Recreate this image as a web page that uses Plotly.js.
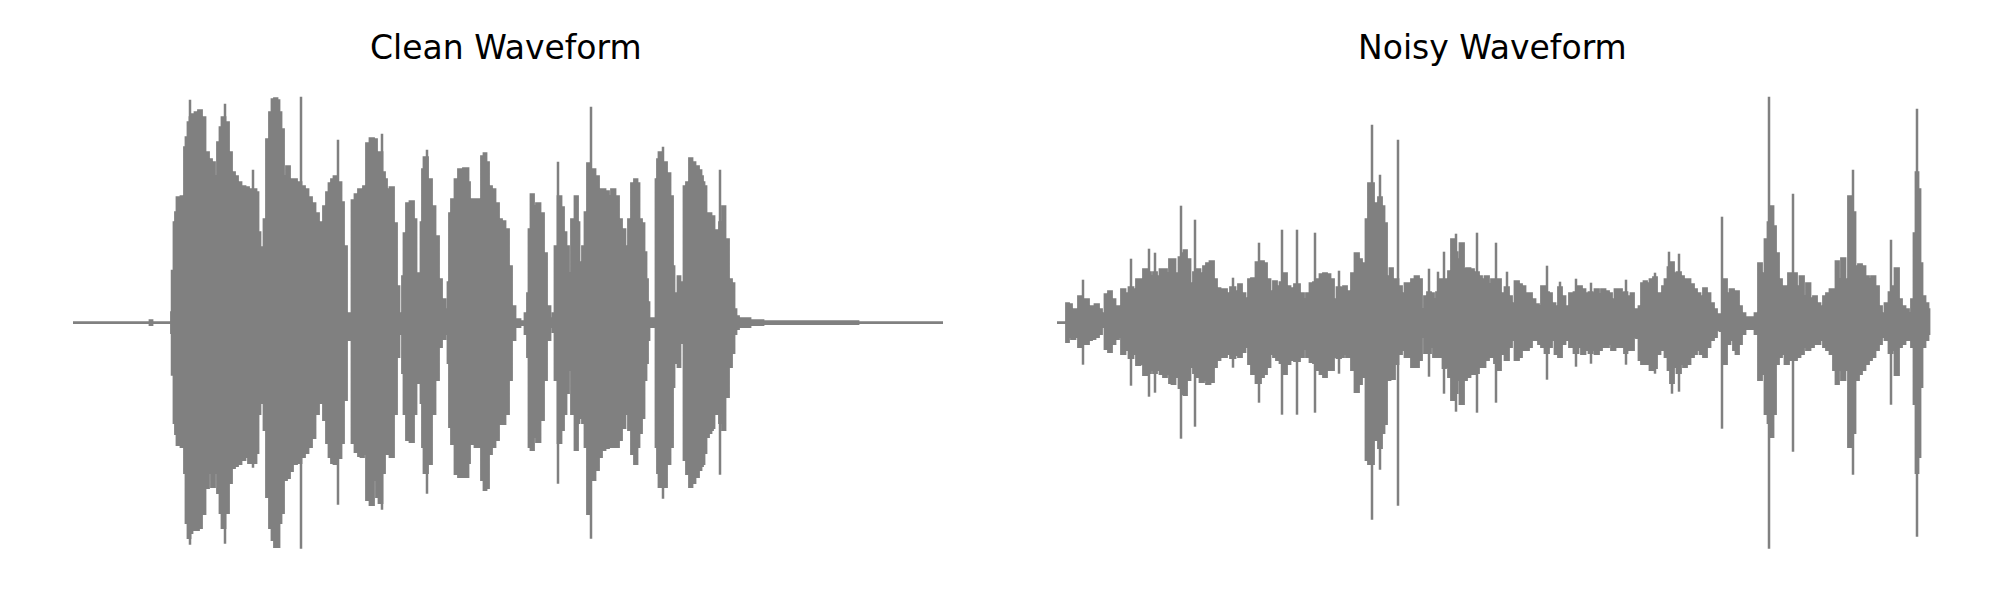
<!DOCTYPE html>
<html>
<head>
<meta charset="utf-8">
<script src="https://cdn.plot.ly/plotly-3.0.1.min.js"></script>
<style>html,body{margin:0;padding:0;background:#fff;}#chart{width:2000px;height:600px;}</style>
</head>
<body>
<div id="chart"></div>
<script>
// ---- Clean waveform: envelope read per frame (frame index, peak amplitude up / down) ----
const cleanFrames = [
  0,76,78,80,97,100,102,103,105,111,
  112,114,116,118,120,124,127,130,134,137,
  140,143,146,148,150,154,157,160,163,166,
  170,174,177,182,184,186,188,190,192,195,
  198,200,203,205,207,209,212,215,218,221,
  226,230,233,237,240,244,247,249,252,255,
  257,260,262,267,269,272,275,278,280,284,
  287,289,292,295,299,302,305,307,311,312,
  315,319,322,325,327,329,330,332,335,339,
  342,344,347,349,350,352,357,360,364,367,
  370,374,376,377,380,384,387,394,396,397,
  407,410,412,414,417,420,424,427,430,434,
  437,440,444,450,454,455,457,459,462,465,
  469,472,475,479,481,483,487,489,492,494,
  497,500,504,505,507,509,510,514,515,520,
  524,527,530,534,537,540,544,547,550,554,
  557,560,563,565,567,570,572,574,575,577,
  582,584,585,587,592,595,599,600,602,604,
  606,608,609,610,612,615,618,620,624,627,
  629,630,632,634,637,639,640,642,644,649,
  650,654,657,660,662,664,667,674,680,700,
  870];
const cleanHi = [
  0,0,2,0,0,10,100,110,125,126,
  175,185,200,205,208,210,212,205,170,163,
  160,146,180,195,205,200,170,150,146,140,
  136,135,133,133,130,90,70,75,103,183,
  210,223,224,222,210,193,146,156,143,143,
  140,136,133,125,119,109,100,83,116,130,
  139,143,146,140,120,76,9,6,122,128,
  133,133,136,179,184,183,143,170,150,143,
  133,135,99,36,4,9,46,89,119,121,
  103,49,49,100,153,165,143,116,86,43,
  23,13,40,109,123,143,153,154,140,123,
  123,166,169,160,136,133,119,103,101,93,
  56,16,3,1,9,29,93,128,116,119,
  109,69,16,4,9,76,126,115,90,76,
  49,103,126,100,60,39,76,110,159,153,
  146,133,133,131,126,133,126,103,93,76,
  103,139,143,139,103,99,70,43,20,4,
  4,143,163,170,160,149,126,56,29,29,
  46,40,16,16,136,140,164,160,156,152,
  146,140,136,109,109,103,106,89,92,100,
  116,83,43,39,13,6,4,4,2,1,
  0];
const cleanLo = [
  0,0,2,0,0,10,100,111,122,124,
  150,200,215,210,207,207,205,191,165,150,
  164,150,170,190,205,190,160,145,143,141,
  137,134,140,140,130,91,71,80,107,174,
  205,217,224,224,200,190,157,155,148,141,
  140,134,130,124,115,91,70,80,97,120,
  134,140,141,135,120,77,17,7,120,129,
  133,134,131,177,182,157,174,180,150,131,
  131,134,91,34,4,11,50,91,117,119,
  91,60,50,80,124,150,141,91,57,24,
  16,11,40,104,121,151,154,154,140,121,
  124,157,167,165,131,124,117,101,101,91,
  57,17,4,2,11,34,124,127,114,119,
  97,57,17,4,9,57,120,107,91,70,
  47,91,127,100,91,95,100,124,191,157,
  147,134,127,125,124,124,124,117,105,91,
  107,131,141,124,110,95,57,40,17,4,
  4,124,150,164,164,141,124,64,34,40,
  44,17,17,20,137,151,164,160,154,147,
  143,141,130,114,110,107,105,91,91,100,
  107,74,44,30,11,6,4,4,2,1,
  0];
// single-sample peaks of the clean waveform
const cleanSpikeFrames = [99,117,152,180,228,265,309,354,485,518,590,647];
const cleanSpikeHi     = [53,223,219,153,226,183,189,173,161,216,176,153];
const cleanSpikeLo     = [53,222,221,145,226,182,187,171,161,216,176,152];

// ---- Noisy waveform ----
const noisyFrames = [
  0,9,10,13,16,20,23,26,30,33,
  36,40,43,46,50,53,56,60,63,66,
  70,74,78,81,85,88,92,95,98,101,
  105,108,111,114,116,120,124,126,128,131,
  135,138,141,145,148,151,155,158,161,165,
  168,171,176,180,183,186,190,193,196,202,
  205,208,211,215,218,221,225,228,231,235,
  240,245,248,251,255,258,261,265,268,271,
  275,278,282,285,288,291,293,296,300,303,
  306,308,310,313,315,318,320,323,326,328,
  331,335,336,339,343,346,350,353,356,360,
  363,366,369,372,375,378,381,385,387,390,
  393,396,399,401,405,408,411,415,418,420,
  423,426,430,433,436,439,441,446,450,453,
  456,460,463,466,470,473,476,480,483,486,
  490,493,496,500,503,506,510,515,519,523,
  526,530,534,536,540,543,546,550,553,556,
  560,563,566,569,571,573,575,578,581,583,
  586,588,591,595,598,601,605,606,610,612,
  615,618,622,625,628,631,635,638,641,645,
  648,651,655,658,661,665,668,671,675,678,
  680,683,686,690,696,700,703,706,710,712,
  715,717,720,723,726,730,733,738,741,745,
  748,751,755,758,761,765,768,771,775,778,
  780,783,786,790,793,796,800,803,806,810,
  813,816,820,823,826,830,834,836,840,843,
  846,850,853,856,858,860,862,864,866,870,
  872];
const noisyHi = [
  0,0,19,18,13,13,26,20,23,16,
  16,18,13,9,28,31,23,16,16,33,
  29,35,33,43,43,53,50,46,50,46,
  53,53,49,63,63,49,65,69,72,63,
  39,50,53,49,56,59,61,43,34,33,
  33,29,35,31,38,29,24,43,44,60,
  61,59,43,31,41,36,40,49,36,34,
  38,29,23,29,39,40,43,48,49,48,
  43,23,35,34,36,29,31,49,69,63,
  59,43,103,139,139,119,116,125,116,99,
  46,54,43,43,36,29,39,39,43,46,
  43,13,26,30,29,23,30,43,43,43,
  51,83,70,63,79,53,54,53,49,50,
  46,43,46,38,43,40,43,29,35,26,
  19,41,38,36,29,29,23,18,16,36,
  30,29,19,16,35,26,16,29,30,36,
  33,29,30,29,33,28,33,31,29,23,
  33,33,29,30,23,26,29,13,12,16,
  39,41,39,43,45,29,13,36,43,55,
  60,49,50,46,43,43,38,33,29,26,
  34,29,19,13,8,8,43,29,33,23,
  31,16,9,5,5,9,59,49,83,100,
  116,96,69,43,36,36,49,49,36,46,
  26,39,24,26,19,16,26,29,33,33,
  61,43,64,43,126,110,56,58,56,46,
  43,46,36,16,9,19,30,36,54,23,
  16,13,9,23,89,150,133,59,26,19,
  13];
const noisyLo = [
  0,0,19,14,16,14,24,20,21,17,
  16,14,11,4,26,29,21,16,14,31,
  27,35,31,42,41,52,50,47,50,47,
  51,54,51,60,61,54,65,71,72,57,
  44,50,54,59,57,61,59,44,37,34,
  34,31,35,32,34,29,24,41,51,60,
  54,51,44,31,34,37,40,51,41,37,
  38,34,26,34,39,40,47,51,54,47,
  47,34,35,34,31,34,31,47,69,61,
  54,41,137,141,141,117,117,125,110,101,
  57,44,56,41,31,27,34,34,44,44,
  37,14,30,30,24,34,34,34,45,44,
  54,77,70,57,81,57,54,51,51,50,
  44,44,37,34,34,40,47,31,37,24,
  17,37,34,27,27,24,17,17,21,24,
  30,24,17,31,34,21,17,24,30,24,
  31,27,30,27,31,27,24,24,21,27,
  24,24,24,30,21,27,27,14,15,37,
  41,37,41,47,45,31,14,27,34,47,
  60,44,50,41,44,41,34,31,27,31,
  34,24,17,14,7,8,41,21,17,27,
  31,21,11,6,6,11,57,51,91,100,
  114,91,41,34,31,41,37,37,34,31,
  24,27,24,21,21,17,24,27,31,47,
  61,47,57,47,124,110,57,51,47,41,
  37,34,27,21,14,17,30,27,52,24,
  21,17,17,24,81,150,134,64,24,17,
  11];
// single-sample noise bursts / clicks
const noisySpikeFrames = [26,74,92,98,124,138,176,202,225,240,258,282,315,323,341,372,381,387,399,420,439,450,490,503,519,534,569,598,612,615,622,665,712,736,796,834,860];
const noisySpikeHi     = [43,64,74,70,117,103,45,80,93,93,90,52,198,148,183,54,51,71,89,90,80,51,57,41,44,40,43,50,71,60,69,106,226,129,153,83,214];
const noisySpikeLo     = [42,63,74,70,116,104,45,80,92,92,90,51,197,147,183,54,30,71,89,90,80,37,57,30,44,41,42,51,47,71,69,106,226,129,152,82,214];

const titles = ["Clean Waveform", "Noisy Waveform"];

const GRAY = "#808080";

function envelopeTrace(frames, hi, lo, xa, ya) {
  const x = frames.concat(frames.slice().reverse());
  const y = hi.concat(lo.map(v => -v).reverse());
  return {x, y, xaxis: xa, yaxis: ya, type: "scatter", mode: "lines",
    fill: "toself", fillcolor: GRAY, line: {color: GRAY, width: 2.8, shape: "hvh"}, hoverinfo: "skip"};
}
function spikeTrace(frames, hi, lo, xa, ya) {
  const x = [], y = [];
  frames.forEach((f, i) => { x.push(f, f, null); y.push(hi[i], -lo[i], null); });
  return {x, y, xaxis: xa, yaxis: ya, type: "scatter", mode: "lines",
    line: {color: GRAY, width: 2.5}, hoverinfo: "skip", connectgaps: false};
}

const data = [
  envelopeTrace(cleanFrames, cleanHi, cleanLo, "x", "y"),
  spikeTrace(cleanSpikeFrames, cleanSpikeHi, cleanSpikeLo, "x", "y"),
  envelopeTrace(noisyFrames, noisyHi, noisyLo, "x2", "y2"),
  spikeTrace(noisySpikeFrames, noisySpikeHi, noisySpikeLo, "x2", "y2")
];

const hidden = {visible: false, showgrid: false, zeroline: false, fixedrange: true};
const layout = {
  width: 2000, height: 600,
  margin: {l: 0, r: 0, t: 0, b: 0, pad: 0},
  paper_bgcolor: "#ffffff", plot_bgcolor: "#ffffff",
  showlegend: false,
  xaxis:  Object.assign({}, hidden, {domain: [0.01475, 0.49325], range: [-43.5, 913.5]}),
  yaxis:  Object.assign({}, hidden, {domain: [0, 1], range: [-277.3, 322.7], anchor: "x"}),
  xaxis2: Object.assign({}, hidden, {domain: [0.5067, 0.9863], range: [-43.6, 915.6], anchor: "y2"}),
  yaxis2: Object.assign({}, hidden, {domain: [0, 1], range: [-277.3, 322.7], anchor: "x2"}),
  annotations: [
    {text: titles[0], xref: "paper", yref: "paper", x: 0.25325, y: 1 - 47/600, xanchor: "center", yanchor: "middle",
     showarrow: false, font: {family: "DejaVu Sans", size: 33, color: "#000000"}},
    {text: titles[1], xref: "paper", yref: "paper", x: 0.746, y: 1 - 47/600, xanchor: "center", yanchor: "middle",
     showarrow: false, font: {family: "DejaVu Sans", size: 33, color: "#000000"}}
  ]
};

Plotly.newPlot("chart", data, layout, {staticPlot: true, displayModeBar: false});
</script>
</body>
</html>
